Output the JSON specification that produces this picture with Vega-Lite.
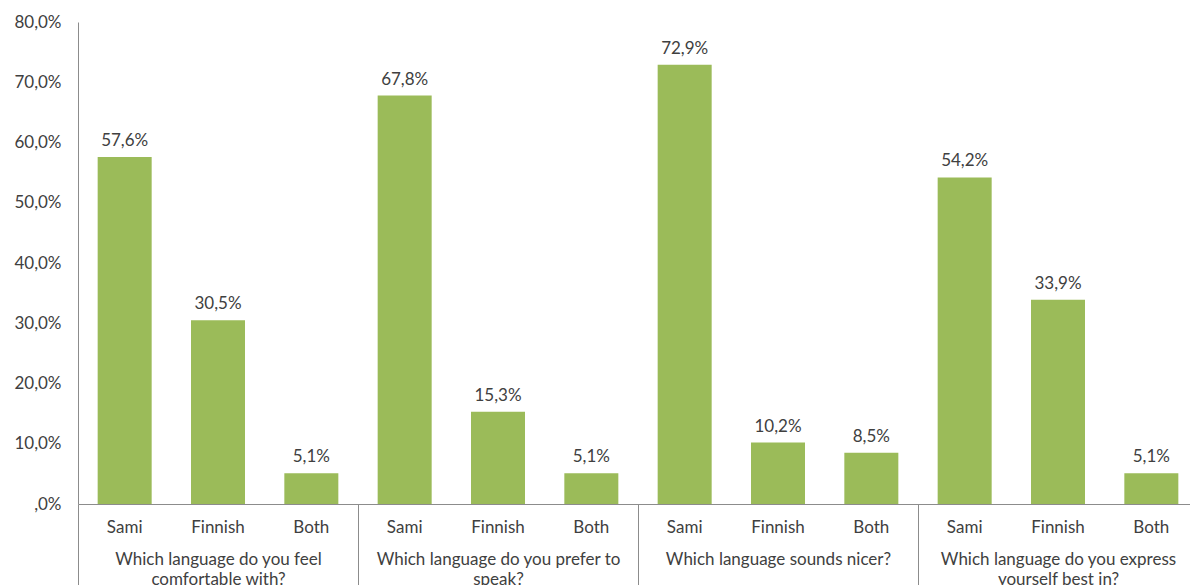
{
  "$schema": "https://vega.github.io/schema/vega-lite/v6.json",
  "autosize": {"type": "none"},
  "padding": {"left": 78, "top": 22, "right": 0, "bottom": 81},
  "width": 1112,
  "height": 482,
  "background": "white",
  "config": {
    "view": {"stroke": null},
    "font": "Lato",
    "locale": {"number": {"decimal": ",", "thousands": " ", "grouping": [3], "currency": ["", ""]}},
    "axis": {"labelFont": "Lato", "labelFontSize": 17, "labelColor": "#404040", "domainColor": "#8C8C8C", "tickColor": "#8C8C8C", "grid": false, "labelLimit": 0}
  },
  "data": {
    "values": [
      {"q": "Which language do you feel comfortable with?", "cat": "Sami", "value": 0.576},
      {"q": "Which language do you feel comfortable with?", "cat": "Finnish", "value": 0.305},
      {"q": "Which language do you feel comfortable with?", "cat": "Both", "value": 0.051},
      {"q": "Which language do you prefer to speak?", "cat": "Sami", "value": 0.678},
      {"q": "Which language do you prefer to speak?", "cat": "Finnish", "value": 0.153},
      {"q": "Which language do you prefer to speak?", "cat": "Both", "value": 0.051},
      {"q": "Which language sounds nicer?", "cat": "Sami", "value": 0.729},
      {"q": "Which language sounds nicer?", "cat": "Finnish", "value": 0.102},
      {"q": "Which language sounds nicer?", "cat": "Both", "value": 0.085},
      {"q": "Which language do you express yourself best in?", "cat": "Sami", "value": 0.542},
      {"q": "Which language do you express yourself best in?", "cat": "Finnish", "value": 0.339},
      {"q": "Which language do you express yourself best in?", "cat": "Both", "value": 0.051}
    ]
  },
  "encoding": {
    "x": {
      "field": "q", "type": "nominal", "sort": null,
      "scale": {"type": "band", "paddingInner": 0, "paddingOuter": 0, "range": [0, 1120]},
      "axis": {
        "title": null,
        "labelAngle": 0,
        "labelOverlap": false,
        "labelBound": false,
        "labelFlush": false,
        "tickBand": "extent",
        "tickSize": 90,
        "tickWidth": 1,
        "labelPadding": -43,
        "labelBaseline": "top",
        "labelLineHeight": 20,
        "labelExpr": "datum.value == 'Which language do you feel comfortable with?' ? ['Which language do you feel', 'comfortable with?'] : datum.value == 'Which language do you prefer to speak?' ? ['Which language do you prefer to', 'speak?'] : datum.value == 'Which language do you express yourself best in?' ? ['Which language do you express', 'yourself best in?'] : datum.label"
      }
    },
    "xOffset": {
      "field": "cat", "type": "nominal", "sort": ["Sami", "Finnish", "Both"],
      "scale": {"paddingInner": 0.4214, "paddingOuter": 0.2107}
    }
  },
  "layer": [
    {
      "mark": {"type": "bar", "color": "#9BBB59"},
      "encoding": {
        "y": {
          "field": "value", "type": "quantitative",
          "scale": {"domain": [0, 0.8], "nice": false},
          "axis": {
            "title": null,
            "ticks": false,
            "values": [0, 0.1, 0.2, 0.3, 0.4, 0.5, 0.6, 0.7, 0.8],
            "labelPadding": 17,
            "labelExpr": "datum.value == 0 ? ',0%' : format(datum.value, '.1%')"
          }
        }
      }
    },
    {
      "mark": {"type": "text", "baseline": "bottom", "dy": -7, "fontSize": 17, "color": "#404040", "font": "Lato"},
      "encoding": {
        "y": {"field": "value", "type": "quantitative"},
        "text": {"field": "value", "type": "quantitative", "format": ".1%"}
      }
    },
    {
      "mark": {"type": "text", "baseline": "top", "dy": 16, "fontSize": 17, "color": "#404040", "font": "Lato"},
      "encoding": {
        "y": {"datum": 0},
        "text": {"field": "cat"}
      }
    }
  ]
}
